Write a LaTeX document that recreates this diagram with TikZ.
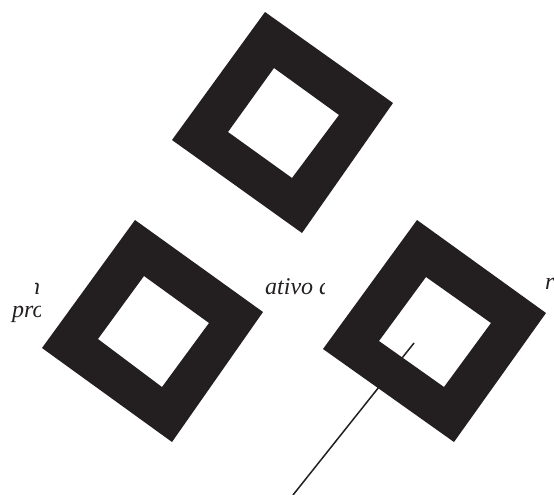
\documentclass[tikz,border=0pt]{standalone}
\usepackage{fontspec}
\setmainfont{Liberation Serif}
\definecolor{ink}{HTML}{231F20}
\begin{document}
\begin{tikzpicture}[x=1pt,y=-1pt,
  frame/.style={fill=ink, even odd rule},
  lbl/.style={inner sep=0pt, anchor=base west, text=ink,
    font=\fontsize{24}{24}\selectfont\itshape},
  leader/.style={draw=ink, line width=1.5pt}]
\useasboundingbox (0,0) rectangle (554,495);
% text fragments (partly hidden)
\begin{scope}
  \clip (35,270) rectangle (41,300);
  \node[lbl] (t1) at (28,294) {n};
\end{scope}
\begin{scope}
  \clip (0,300) rectangle (40,325);
  \node[lbl] (t2) at (12,317) {pro};
\end{scope}
\begin{scope}
  \clip (255,270) rectangle (324,302);
  \node[lbl] (t3) at (265,294) {ativo d};
\end{scope}
\begin{scope}
  \clip (544,270) rectangle (554,300);
  \node[lbl] (t4) at (545,289) {r};
\end{scope}
% frames
\fill[frame] (265,12) -- (393,103) -- (302,233) -- (172,140) -- cycle
             (274,68) -- (339,115) -- (292,178) -- (228,132) -- cycle;
\fill[frame] (135,220) -- (263,312) -- (172,442) -- (42,348) -- cycle
             (144,276) -- (209,323) -- (162,387) -- (98,339) -- cycle;
\fill[frame] (417,220) -- (546,313) -- (454,442) -- (323,349) -- cycle
             (426,277) -- (491,323) -- (444,387) -- (379,341) -- cycle;
% leader line
\coordinate (p) at (414,343);
\coordinate (q) at (293,495);
\draw[leader] (p) -- (q);
\end{tikzpicture}
\end{document}
